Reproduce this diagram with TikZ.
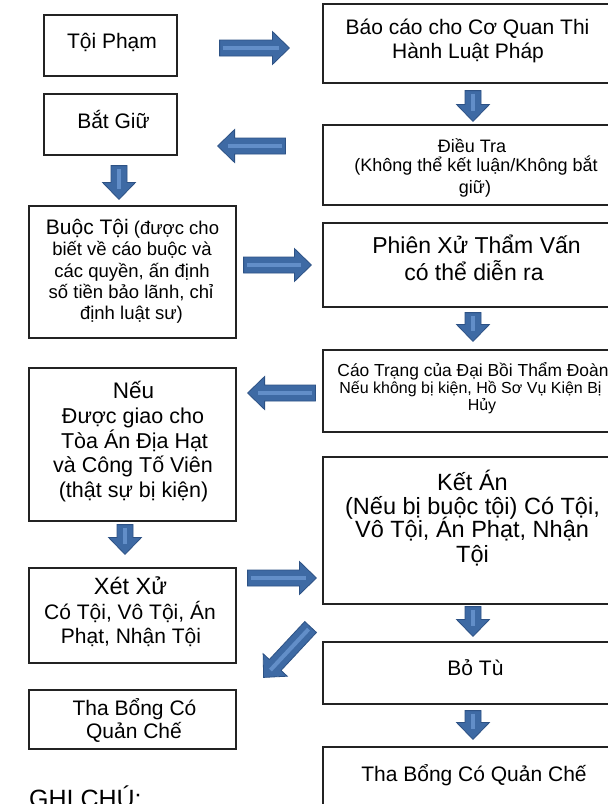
\documentclass[tikz,border=0pt]{standalone}
\usepackage{fontspec}
\setmainfont{Liberation Sans}
\usetikzlibrary{calc}
\definecolor{arrfill}{RGB}{62,106,164}
\definecolor{arrline}{RGB}{45,82,133}
\definecolor{arrhl}{RGB}{98,142,200}
\definecolor{boxline}{RGB}{35,35,35}
\newcommand\fsz[2]{\fontsize{#1}{#2}\selectfont}
\newcommand\blkarrow[2]{%
  \coordinate (ba-s) at (#1);
  \coordinate (ba-e) at (#2);
  \coordinate (ba-h) at ($(ba-e)!17pt!(ba-s)$);
  \filldraw[blkfill] ($(ba-s)!8pt!90:(ba-e)$) -- ($(ba-h)!8pt!-90:(ba-s)$) -- ($(ba-h)!16.5pt!-90:(ba-s)$) -- (ba-e) -- ($(ba-h)!16.5pt!90:(ba-s)$) -- ($(ba-h)!8pt!90:(ba-s)$) -- ($(ba-s)!8pt!-90:(ba-e)$) -- cycle;
  \draw[blkhl] ($(ba-s)!3pt!(ba-e)$) -- ($(ba-e)!10pt!(ba-s)$);
}
\begin{document}
\begin{tikzpicture}[x=1pt,y=-1pt,
  box/.style={draw=boxline, line width=1.2pt, fill=white, inner sep=0pt},
  txt/.style={inner sep=0pt, anchor=base, text=black},
  blkfill/.style={fill=arrfill, draw=arrline, line width=0.8pt, line join=miter},
  blkhl/.style={draw=arrhl, line width=4pt}
]
\useasboundingbox (0,0) rectangle (608,804);
\fill[white] (0,0) rectangle (608,804);

% left column boxes
\node[box, minimum width=133pt, minimum height=61pt] (tp) at (110.5,45.5) {};
\node[box, minimum width=133pt, minimum height=61pt] (bg) at (110.5,124.5) {};
\node[box, minimum width=207pt, minimum height=132pt] (bt) at (132.5,272) {};
\node[box, minimum width=207pt, minimum height=153pt] (neu) at (132.5,444.5) {};
\node[box, minimum width=207pt, minimum height=95pt] (xx) at (132.5,615.5) {};
\node[box, minimum width=207pt, minimum height=59pt] (tbl) at (132.5,719.5) {};

% right column boxes
\node[box, minimum width=302pt, minimum height=79pt] (bc) at (474,43.5) {};
\node[box, minimum width=302pt, minimum height=80pt] (dt) at (474,165) {};
\node[box, minimum width=302pt, minimum height=84pt] (px) at (474,265) {};
\node[box, minimum width=302pt, minimum height=82pt] (ct) at (474,391) {};
\node[box, minimum width=302pt, minimum height=147pt] (ka) at (474,530.5) {};
\node[box, minimum width=302pt, minimum height=62pt] (bo) at (474,673) {};
\node[box, minimum width=302pt, minimum height=83pt] (tbr) at (474,788.5) {};

% texts, left column
\node[txt, font=\fsz{21}{24}] (tp1) at (112,48) {Tội Phạm};
\node[txt, font=\fsz{21}{24}] (bg1) at (113.5,128) {Bắt Giữ};
\node[txt, font=\fsz{18.5}{21}] (bt1) at (132.5,234.5) {{\fsz{21}{24}Buộc Tội} (được cho};
\node[txt, font=\fsz{18.5}{21}] (bt2) at (132,255.8) {biết về cáo buộc và};
\node[txt, font=\fsz{18.5}{21}] (bt3) at (132,277) {các quyền, ấn định};
\node[txt, font=\fsz{18.5}{21}] (bt4) at (131,298.3) {số tiền bảo lãnh, chỉ};
\node[txt, font=\fsz{18.5}{21}] (bt5) at (131.5,319.6) {định luật sư)};
\node[txt, font=\fsz{22.5}{25}] (ne1) at (133.5,398) {Nếu};
\node[txt, font=\fsz{21.5}{24}] (ne2) at (133,423.5) {Được giao cho};
\node[txt, font=\fsz{21.5}{24}] (ne3) at (134.5,448) {Tòa Án Địa Hạt};
\node[txt, font=\fsz{21.5}{24}] (ne4) at (133,472.5) {và Công Tố Viên};
\node[txt, font=\fsz{21.5}{24}] (ne5) at (133.5,497) {(thật sự bị kiện)};
\node[txt, font=\fsz{23.5}{26}] (xx1) at (130.5,594) {Xét Xử};
\node[txt, font=\fsz{21}{24}] (xx2) at (130,619) {Có Tội, Vô Tội, Án};
\node[txt, font=\fsz{21}{24}] (xx3) at (131,643) {Phạt, Nhận Tội};
\node[txt, font=\fsz{21}{24}] (tl1) at (134.5,715) {Tha Bổng Có};
\node[txt, font=\fsz{21}{24}] (tl2) at (134,738) {Quản Chế};
\node[txt, font=\fsz{25}{28}, anchor=base west] (gc) at (29,807) {GHI CHÚ:};

% texts, right column
\node[txt, font=\fsz{21}{24}] (bc1) at (467.5,34.5) {Báo cáo cho Cơ Quan Thi};
\node[txt, font=\fsz{21}{24}] (bc2) at (468,58) {Hành Luật Pháp};
\node[txt, font=\fsz{18}{21}] (dt1) at (472,152) {Điều Tra};
\node[txt, font=\fsz{18}{21}] (dt2) at (476,171.5) {(Không thể kết luận/Không bắt};
\node[txt, font=\fsz{18}{21}] (dt3) at (475,193) {giữ)};
\node[txt, font=\fsz{23}{27}] (px1) at (476.5,253) {Phiên Xử Thẩm Vấn};
\node[txt, font=\fsz{23}{27}] (px2) at (474,280) {có thể diễn ra};
\node[txt, font=\fsz{17.4}{18}] (ct1) at (473,376) {Cáo Trạng của Đại Bồi Thẩm Đoàn};
\node[txt, font=\fsz{16}{18}] (ct2) at (470.5,393.5) {Nếu không bị kiện, Hồ Sơ Vụ Kiện Bị};
\node[txt, font=\fsz{16}{18}] (ct3) at (482,410.5) {Hủy};
\node[txt, font=\fsz{23.5}{24}] (ka1) at (472.5,490.5) {Kết Án};
\node[txt, font=\fsz{23.5}{24}] (ka2) at (472.5,514) {(Nếu bị buộc tội) Có Tội,};
\node[txt, font=\fsz{23.5}{24}] (ka3) at (472,537.5) {Vô Tội, Án Phạt, Nhận};
\node[txt, font=\fsz{23.5}{24}] (ka4) at (472.5,562) {Tội};
\node[txt, font=\fsz{21}{24}] (bo1) at (475.5,675) {Bỏ Tù};
\node[txt, font=\fsz{21}{24}] (tr1) at (474,781) {Tha Bổng Có Quản Chế};

% block arrows
\blkarrow{[shift={(42,2.5)}]tp.east}{[shift={(-33,4.5)}]bc.west}
\blkarrow{[shift={(-1,7)}]bc.south}{[shift={(-1,-3)}]dt.north}
\blkarrow{[shift={(-37,-19)}]dt.west}{[shift={(40,21.5)}]bg.east}
\blkarrow{[shift={(8.5,10)}]bg.south}{[shift={(-13.5,-6)}]bt.north}
\blkarrow{[shift={(7,-7)}]bt.east}{[shift={(-11,0)}]px.west}
\blkarrow{[shift={(-1,5)}]px.south}{[shift={(-1,-8)}]ct.north}
\blkarrow{[shift={(-7,2)}]ct.west}{[shift={(11,-51.5)}]neu.east}
\blkarrow{[shift={(-7.5,3)}]neu.south}{[shift={(-7.5,-13)}]xx.north}
\blkarrow{[shift={(11,-37.5)}]xx.east}{[shift={(-6,47.5)}]ka.west}
\blkarrow{[shift={(-1,2)}]ka.south}{[shift={(-1,-5)}]bo.north}
\blkarrow{[shift={(74,11.5)}]xx.east}{[shift={(27,-12)}]tbl.north east}
\blkarrow{[shift={(-1,6)}]bo.south}{[shift={(-1,-7)}]tbr.north}
\end{tikzpicture}
\end{document}
